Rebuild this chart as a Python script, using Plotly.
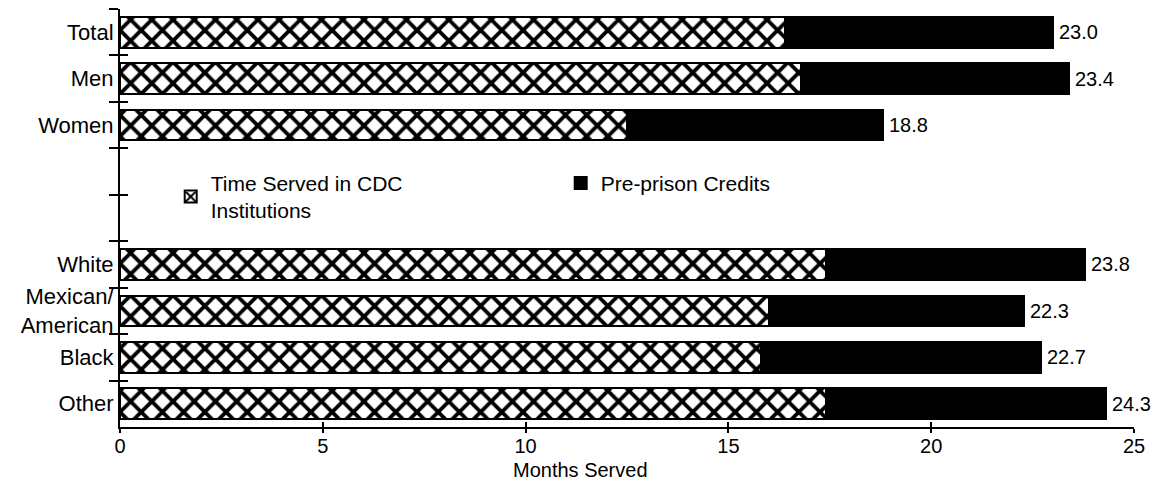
import plotly.graph_objects as go

categories = ["Total", "Men", "Women", " ", "  ", "White", "Mexican/<br>American", "Black", "Other"]
time_served = [16.4, 16.8, 12.5, None, None, 17.4, 16.0, 15.8, 17.4]
totals = [23.0, 23.4, 18.8, None, None, 23.8, 22.3, 22.7, 24.3]
total_labels = ["23.0", "23.4", "18.8", "", "", "23.8", "22.3", "22.7", "24.3"]
credits = [None if t is None else round(t - s, 1) for t, s in zip(totals, time_served)]
x_ticks = [0, 5, 10, 15, 20, 25]

FONT = "Liberation Sans, Arial, Helvetica, sans-serif"
FS = 21

fig = go.Figure()
fig.add_trace(go.Bar(
    y=categories, x=time_served, orientation="h", name="Time Served in CDC<br>Institutions",
    marker=dict(color="white", line=dict(color="black", width=2),
                pattern=dict(shape="x", fgcolor="black", bgcolor="white", fgopacity=1,
                             size=15, solidity=0.45)),
    width=0.66,
))
fig.add_trace(go.Bar(
    y=categories, x=credits, orientation="h", name="Pre-prison Credits",
    marker=dict(color="black", line=dict(color="black", width=2)),
    width=0.66,
))
# helper axes for crossing ticks
fig.add_trace(go.Scatter(x=[None], y=[None], xaxis="x2", yaxis="y2", showlegend=False, hoverinfo="skip"))

value_annotations = [
    dict(x=t, y=c, xref="x", yref="y", text=lab, showarrow=False, xanchor="left",
         xshift=4, font=dict(size=20))
    for c, t, lab in zip(categories, totals, total_labels) if t is not None
]

n = len(categories)
fig.update_layout(
    width=1154, height=475,
    margin=dict(l=112, r=28, t=1, b=56),
    paper_bgcolor="white", plot_bgcolor="white",
    barmode="stack",
    font=dict(family=FONT, size=FS, color="black"),
    showlegend=True,
    legend=dict(orientation="h", x=0.05, y=0.632, xanchor="left", yanchor="top",
                entrywidth=345, entrywidthmode="pixels", traceorder="normal",
                font=dict(size=FS, family=FONT), bgcolor="rgba(0,0,0,0)", itemwidth=30),
    xaxis=dict(range=[0, 25], tickvals=x_ticks, ticks="outside", ticklen=4, tickwidth=2,
               tickcolor="black", showline=True, linecolor="black", linewidth=2,
               showgrid=False, zeroline=False, tickfont=dict(size=20), ticklabelstandoff=-4),
    yaxis=dict(type="category", categoryorder="array", categoryarray=categories,
               range=[n - 0.5, -0.5], tickson="boundaries", ticks="outside", ticklen=9,
               tickwidth=2, tickcolor="black", showline=True, linecolor="black", linewidth=2,
               showgrid=False, zeroline=False, tickfont=dict(size=22)),
    xaxis2=dict(overlaying="x", range=[0, 25], tickvals=x_ticks, ticks="inside", ticklen=5,
                tickwidth=2, tickcolor="black", showticklabels=False, showline=False,
                showgrid=False, zeroline=False, side="bottom"),
    yaxis2=dict(overlaying="y", range=[n - 0.5, -0.5], tickvals=[i - 0.5 for i in range(n + 1)],
                ticks="inside", ticklen=8, tickwidth=2, tickcolor="black", showticklabels=False,
                showline=False, showgrid=False, zeroline=False, side="left"),
    annotations=value_annotations + [
        dict(text="Months Served", xref="paper", yref="paper", x=0.454, y=-0.134,
             xanchor="center", yanchor="bottom", showarrow=False, font=dict(size=20))],
)

fig.write_html("out.html")
